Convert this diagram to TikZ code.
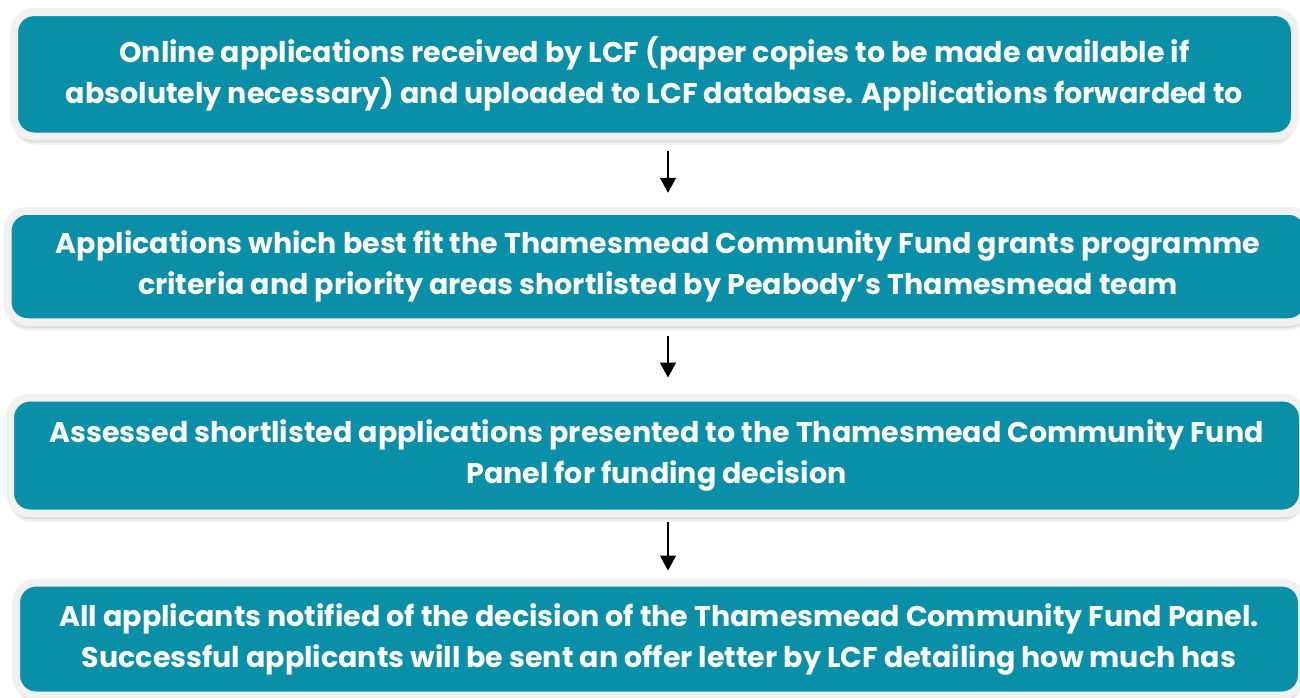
\documentclass[tikz,border=0pt]{standalone}
\usepackage{fontspec}
\setmainfont{Poppins}
\usetikzlibrary{arrows.meta,shadows}
\definecolor{teal1}{HTML}{098FA8}
\definecolor{frame1}{HTML}{F1F1F1}
\definecolor{shadowA}{HTML}{7E8C5E}
\definecolor{shadowB}{HTML}{8C8098}
\tikzset{
  stepbox/.style={draw=frame1, line width=8pt, fill=teal1, rounded corners=20pt,
    text=white, font=\fontsize{28.5}{41}\selectfont\bfseries, align=center,
    inner sep=0pt, anchor=center},
  softshadow/.style={
    general shadow={fill=#1, draw=none, opacity=.25, shadow yshift=-1.5pt},
    general shadow={fill=#1, draw=none, opacity=.25, shadow yshift=-3.5pt},
    general shadow={fill=#1, draw=none, opacity=.2, shadow yshift=-5.5pt},
    general shadow={fill=#1, draw=none, opacity=.12, shadow yshift=-8pt}},
  flow/.style={line width=1.4pt, -{Triangle[width=16pt,length=15pt]}},
}
\begin{document}
\begin{tikzpicture}[x=1pt,y=-1pt]
\useasboundingbox (0,0) rectangle (1300,697);
\fill[white] (0,0) rectangle (1300,697);
\node[stepbox, softshadow=shadowA, minimum width=1281pt, minimum height=124.5pt] (b1) at (654.5,74.25)
  {Online applications received by LCF (paper copies to be made available if\\absolutely necessary) and uploaded to LCF database. Applications forwarded to};
\node[stepbox, softshadow=shadowB, minimum width=1301pt, minimum height=111.5pt] (b2) at (658,266.5)
  {Applications which best fit the Thamesmead Community Fund grants programme\\criteria and priority areas shortlisted by Peabody’s Thamesmead team};
\node[stepbox, softshadow=shadowB, minimum width=1293pt, minimum height=116pt] (b3) at (656.5,455.5)
  {Assessed shortlisted applications presented to the Thamesmead Community Fund\\Panel for funding decision};
\node[stepbox, softshadow=shadowB, minimum width=1286pt, minimum height=113pt] (b4) at (659,639)
  {All applicants notified of the decision of the Thamesmead Community Fund Panel.\\Successful applicants will be sent an offer letter by LCF detailing how much has};
\coordinate (ax) at (668,0);
\draw[flow] ([yshift=-10pt]b1.south -| ax) -- ([yshift=14pt]b2.north -| ax);
\draw[flow] ([yshift=-10pt]b2.south -| ax) -- ([yshift=16pt]b3.north -| ax);
\draw[flow] ([yshift=-4pt]b3.south -| ax) -- ([yshift=8pt]b4.north -| ax);
\end{tikzpicture}
\end{document}
